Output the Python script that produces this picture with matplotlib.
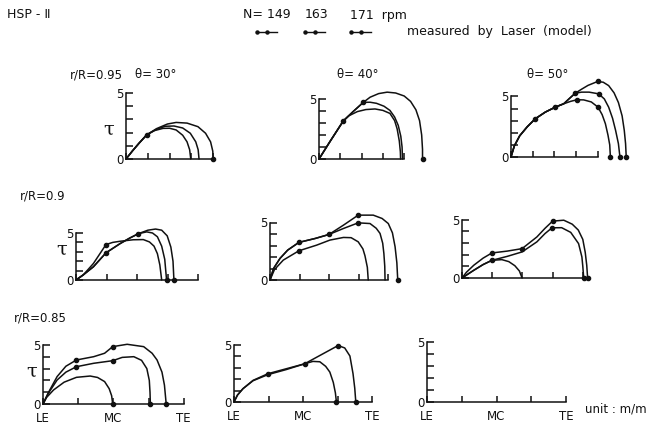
import matplotlib
matplotlib.use("Agg")
import matplotlib.pyplot as plt
from matplotlib.lines import Line2D

# ---------------------------------------------------------------------------
# Cavity thickness tau along the chord (LE .. TE), HSP-II model propeller,
# measured by laser at N = 149 / 163 / 171 rpm.
# Each curve: chord positions (x) and thickness (tau); *_m are measured points.
# ---------------------------------------------------------------------------
rpm_values = [149, 163, 171]
chord_labels = ["LE", "", "MC", "", "TE"]
tau_labels = ["0", "", "", "", "", "5"]

# r/R = 0.95, theta = 30 deg
a1_149_x = [0, 0.3, 0.6, 0.95, 1.3, 1.7, 2.0, 2.3, 2.6, 2.8, 2.92, 2.97]
a1_149_y = [0, 0.62, 1.2, 1.83, 2.15, 2.32, 2.33, 2.2, 1.8, 1.3, 0.7, 0]
a1_163_x = [0, 0.3, 0.6, 0.95, 1.4, 1.8, 2.2, 2.6, 2.95, 3.2, 3.31, 3.35]
a1_163_y = [0, 0.62, 1.2, 1.83, 2.25, 2.48, 2.5, 2.35, 1.95, 1.3, 0.7, 0]
a1_171_x = [0, 0.3, 0.6, 0.95, 1.4, 1.9, 2.3, 2.8, 3.3, 3.65, 3.88, 3.98, 4.0]
a1_171_y = [0, 0.62, 1.2, 1.83, 2.3, 2.65, 2.77, 2.72, 2.45, 1.95, 1.3, 0.6, 0]
a1_m_x = [0.95, 4.0]
a1_m_y = [1.83, 0]

# r/R = 0.95, theta = 40 deg
a2_149_x = [0, 0.55, 1.14, 1.4, 1.8, 2.2, 2.63, 3.0, 3.33, 3.55, 3.67, 3.77, 3.82, 3.83]
a2_149_y = [0, 1.55, 3.17, 3.6, 3.95, 4.12, 4.17, 4.05, 3.8, 3.2, 2.5, 1.5, 0.6, 0]
a2_163_x = [0, 0.55, 1.14, 1.6, 2.08, 2.4, 2.7, 3.05, 3.33, 3.55, 3.72, 3.84, 3.9, 3.92]
a2_163_y = [0, 1.55, 3.17, 3.95, 4.72, 4.73, 4.64, 4.4, 4.05, 3.5, 2.8, 1.9, 1.0, 0]
a2_171_x = [0, 0.55, 1.14, 1.6, 2.08, 2.4, 2.8, 3.2, 3.6, 4.0, 4.3, 4.55, 4.72, 4.82, 4.86, 4.86]
a2_171_y = [0, 1.55, 3.17, 3.95, 4.72, 5.15, 5.45, 5.57, 5.5, 5.25, 4.8, 4.1, 3.2, 2.0, 0.8, 0]
a2_m_x = [1.14, 2.08, 4.86]
a2_m_y = [3.17, 4.72, 0]

# r/R = 0.95, theta = 50 deg
a3_149_x = [0, 0.15, 0.4, 0.75, 1.12, 1.58, 2.04, 2.43, 2.75, 3.04, 3.35, 3.7, 4.01, 4.2, 4.35, 4.47, 4.55, 4.58]
a3_149_y = [0, 0.9, 1.75, 2.5, 3.16, 3.71, 4.12, 4.4, 4.6, 4.73, 4.72, 4.55, 4.12, 3.5, 2.75, 1.8, 1.0, 0]
a3_163_x = [0, 0.15, 0.4, 0.75, 1.12, 1.58, 2.04, 2.43, 2.7, 2.96, 3.25, 3.6, 4.04, 4.3, 4.5, 4.68, 4.82, 4.95, 5.02]
a3_163_y = [0, 0.9, 1.75, 2.5, 3.16, 3.71, 4.12, 4.4, 4.85, 5.27, 5.36, 5.36, 5.22, 4.8, 4.12, 3.2, 2.2, 1.1, 0]
a3_171_x = [0, 0.15, 0.4, 0.75, 1.12, 1.58, 2.04, 2.43, 2.7, 2.96, 3.25, 3.55, 3.99, 4.25, 4.5, 4.75, 4.95, 5.12, 5.22, 5.28, 5.31]
a3_171_y = [0, 0.9, 1.75, 2.5, 3.16, 3.71, 4.12, 4.4, 4.85, 5.27, 5.6, 5.92, 6.24, 6.18, 5.9, 5.3, 4.5, 3.4, 2.2, 1.1, 0]
a3_m_x = [1.12, 2.04, 3.04, 4.01, 2.96, 4.04, 3.99, 4.58, 5.02, 5.31]
a3_m_y = [3.16, 4.12, 4.73, 4.12, 5.27, 5.22, 6.24, 0, 0, 0]

# r/R = 0.9, theta = 30 deg
b1_149_x = [0, 0.24, 0.57, 0.98, 1.2, 1.44, 1.87, 2.2, 2.4, 2.55, 2.66, 2.74, 2.8]
b1_149_y = [0, 0.55, 1.76, 3.77, 4.0, 4.12, 4.28, 4.3, 4.05, 3.6, 2.8, 1.6, 0]
b1_163_x = [0, 0.24, 0.57, 0.98, 1.44, 1.75, 2.04, 2.31, 2.5, 2.66, 2.8, 2.9, 2.96]
b1_163_y = [0, 0.55, 1.41, 2.89, 3.87, 4.45, 4.93, 5.12, 5.0, 4.6, 3.6, 2.2, 0]
b1_171_x = [0, 0.24, 0.57, 0.98, 1.44, 1.75, 2.04, 2.35, 2.6, 2.8, 2.98, 3.1, 3.17, 3.2]
b1_171_y = [0, 0.55, 1.41, 2.89, 3.87, 4.45, 4.93, 5.3, 5.42, 5.3, 4.7, 3.5, 2.0, 0]
b1_m_x = [0.98, 0.98, 2.04, 2.96, 3.2]
b1_m_y = [3.77, 2.89, 4.93, 0, 0]

# r/R = 0.9, theta = 40 deg
b2_149_x = [0, 0.15, 0.45, 0.98, 1.58, 2.03, 2.49, 2.75, 2.99, 3.15, 3.22, 3.3, 3.33]
b2_149_y = [0, 0.9, 1.73, 2.54, 3.03, 3.47, 3.7, 3.68, 3.32, 2.7, 2.1, 1.1, 0]
b2_163_x = [0, 0.12, 0.34, 0.6, 0.98, 1.53, 2.0, 2.49, 2.99, 3.39, 3.6, 3.73, 3.82, 3.86, 3.89, 3.9]
b2_163_y = [0, 1.0, 1.88, 2.6, 3.27, 3.61, 3.96, 4.48, 4.97, 4.91, 4.5, 4.05, 3.2, 2.31, 1.2, 0]
b2_171_x = [0, 0.12, 0.34, 0.6, 0.98, 1.53, 2.0, 2.49, 2.99, 3.5, 3.8, 4.01, 4.15, 4.24, 4.3, 4.33]
b2_171_y = [0, 1.0, 1.88, 2.6, 3.27, 3.61, 3.96, 4.77, 5.64, 5.64, 5.35, 4.91, 4.1, 2.89, 1.5, 0]
b2_m_x = [0.98, 0.98, 2.0, 2.99, 2.99, 4.33]
b2_m_y = [2.54, 3.27, 3.96, 4.97, 5.64, 0]

# r/R = 0.9, theta = 50 deg
b3_149_x = [0, 0.39, 0.7, 0.99, 1.32, 1.55, 1.75, 1.9, 1.99]
b3_149_y = [0, 0.66, 1.15, 1.51, 1.57, 1.4, 1.05, 0.6, 0]
b3_163_x = [0, 0.39, 0.7, 0.99, 1.5, 1.99, 2.48, 2.75, 2.98, 3.3, 3.6, 3.86, 3.97, 4.0, 4.03]
b3_163_y = [0, 0.66, 1.15, 1.51, 1.85, 2.23, 3.09, 3.8, 4.29, 4.3, 3.9, 2.94, 1.8, 1.0, 0]
b3_171_x = [0, 0.15, 0.39, 0.7, 0.99, 1.5, 1.99, 2.48, 2.75, 3.0, 3.37, 3.65, 3.85, 4.0, 4.08, 4.13, 4.16]
b3_171_y = [0, 0.5, 1.09, 1.7, 2.14, 2.3, 2.51, 3.51, 4.25, 4.86, 4.94, 4.6, 4.1, 3.3, 2.2, 1.1, 0]
b3_m_x = [0.99, 0.99, 1.99, 2.98, 3.0, 4.03, 4.16]
b3_m_y = [1.51, 2.14, 2.51, 4.29, 4.86, 0, 0]

# r/R = 0.85, theta = 30 deg
c1_149_x = [0, 0.1, 0.3, 0.6, 0.95, 1.34, 1.55, 1.75, 1.88, 1.95, 1.98]
c1_149_y = [0, 0.55, 1.19, 1.85, 2.26, 2.37, 2.25, 1.9, 1.3, 0.7, 0]
c1_163_x = [0, 0.15, 0.4, 0.65, 0.95, 1.44, 1.98, 2.25, 2.58, 2.8, 2.95, 3.02, 3.04, 3.05]
c1_163_y = [0, 0.9, 2.03, 2.7, 3.16, 3.45, 3.67, 3.95, 4.01, 3.7, 3.0, 2.0, 1.0, 0]
c1_171_x = [0, 0.15, 0.4, 0.65, 0.95, 1.44, 1.75, 1.98, 2.39, 2.86, 3.1, 3.24, 3.38, 3.45, 3.5]
c1_171_y = [0, 0.95, 2.32, 3.2, 3.73, 4.01, 4.3, 4.86, 5.06, 4.86, 4.3, 3.73, 2.7, 1.6, 0]
c1_m_x = [0.95, 1.98, 0.95, 1.98, 1.98, 3.05, 3.5]
c1_m_y = [3.16, 3.67, 3.73, 4.86, 0, 0, 0]

# r/R = 0.85, theta = 40 deg
c2_163_x = [0, 0.1, 0.26, 0.55, 0.98, 1.51, 2.04, 2.28, 2.48, 2.65, 2.77, 2.87, 2.93, 2.96]
c2_163_y = [0, 0.6, 1.16, 1.85, 2.38, 2.82, 3.32, 3.53, 3.5, 3.1, 2.6, 1.7, 0.8, 0]
c2_171_x = [0, 0.1, 0.26, 0.55, 0.98, 1.51, 2.04, 2.57, 3.01, 3.2, 3.35, 3.44, 3.49, 3.52]
c2_171_y = [0, 0.6, 1.16, 1.88, 2.46, 2.89, 3.32, 4.19, 4.91, 4.7, 4.0, 2.46, 1.2, 0]
c2_m_x = [0.98, 2.04, 3.01, 2.96, 3.52]
c2_m_y = [2.46, 3.32, 4.91, 0, 0]

# ---------------------------------------------------------------------------
W, H = 651, 424
fig = plt.figure(figsize=(W / 100, H / 100), dpi=100)
fig.patch.set_facecolor("white")
plt.rcParams["font.family"] = ["DejaVu Sans"]

INK = "#111111"


def frame(x0, y0, sx, sy, bottom_labels=False):
    """Open L-shaped axis with its origin at pixel (x0, y0)."""
    ax = fig.add_axes([x0 / W, 1 - y0 / H, 4 * sx / W, 5 * sy / H])
    ax.set_xlim(0, 4)
    ax.set_ylim(0, 5)
    ax.patch.set_visible(False)
    for side in ("top", "right"):
        ax.spines[side].set_visible(False)
    for side in ("left", "bottom"):
        ax.spines[side].set_linewidth(1.1)
        ax.spines[side].set_color(INK)
    ax.set_yticks(range(6))
    ax.set_yticklabels(tau_labels)
    ax.set_xticks(range(5))
    ax.set_xticklabels(chord_labels if bottom_labels else [""] * 5)
    ax.set_xticks([4], minor=True)
    ax.tick_params(axis="y", direction="in", length=5, width=1.1, pad=2,
                   labelsize=8.5, colors=INK)
    ax.tick_params(axis="x", which="major", direction="in", length=4,
                   width=1.1, pad=6, labelsize=8.5, colors=INK)
    ax.tick_params(axis="x", which="minor", direction="in", length=11,
                   width=1.1)
    return ax


def curves(ax, series, mx, my):
    for xs, ys in series:
        ax.plot(xs, ys, color=INK, lw=1.1, clip_on=False,
                solid_joinstyle="round", solid_capstyle="round")
    ax.plot(mx, my, "o", ms=3.0, color=INK, clip_on=False)


# row r/R = 0.95
ax = frame(126, 159, 21.8, 13.2)
curves(ax, [(a1_149_x, a1_149_y), (a1_163_x, a1_163_y), (a1_171_x, a1_171_y)], a1_m_x, a1_m_y)
ax = frame(319, 159, 21.3, 12.0)
curves(ax, [(a2_149_x, a2_149_y), (a2_163_x, a2_163_y), (a2_171_x, a2_171_y)], a2_m_x, a2_m_y)
ax = frame(511, 157, 21.7, 12.1)
curves(ax, [(a3_149_x, a3_149_y), (a3_163_x, a3_163_y), (a3_171_x, a3_171_y)], a3_m_x, a3_m_y)

# row r/R = 0.9
ax = frame(76, 280, 30.6, 9.4)
curves(ax, [(b1_149_x, b1_149_y), (b1_163_x, b1_163_y), (b1_171_x, b1_171_y)], b1_m_x, b1_m_y)
ax = frame(270, 280, 29.5, 11.5)
curves(ax, [(b2_149_x, b2_149_y), (b2_163_x, b2_163_y), (b2_171_x, b2_171_y)], b2_m_x, b2_m_y)
ax = frame(462, 278, 30.2, 11.7)
curves(ax, [(b3_149_x, b3_149_y), (b3_163_x, b3_163_y), (b3_171_x, b3_171_y)], b3_m_x, b3_m_y)

# row r/R = 0.85
ax = frame(43, 404, 35.2, 11.8, bottom_labels=True)
curves(ax, [(c1_149_x, c1_149_y), (c1_163_x, c1_163_y), (c1_171_x, c1_171_y)], c1_m_x, c1_m_y)
ax = frame(234, 402, 34.6, 11.5, bottom_labels=True)
curves(ax, [(c2_163_x, c2_163_y), (c2_171_x, c2_171_y)], c2_m_x, c2_m_y)
ax = frame(427, 402, 34.75, 12.0, bottom_labels=True)


def label(x, y, s, size=8.5, **kw):
    fig.text(x / W, 1 - y / H, s, fontsize=size, color=INK, va="center", **kw)


# header and legend
label(7, 15, "HSP - Ⅱ", size=9)
label(243, 15, "N= 149", size=9)
label(305, 15, "163", size=9)
label(350, 15, "171  rpm", size=9)
for cx in (267, 315, 361):
    fig.add_artist(Line2D([(cx - 10) / W, (cx + 10) / W], [1 - 32 / H] * 2,
                          color=INK, lw=1.0, marker="o", ms=2.2,
                          markevery=[0], transform=fig.transFigure))
    fig.add_artist(Line2D([cx / W], [1 - 32 / H], color=INK, marker="o",
                          ms=2.2, transform=fig.transFigure))
label(407, 31, "measured  by  Laser  (model)", size=9)

# row and column captions
label(70, 75, "r/R=0.95")
label(135, 75, "θ= 30°")
label(337, 75, "θ= 40°")
label(527, 75, "θ= 50°")
label(20, 196, "r/R=0.9")
label(14, 318, "r/R=0.85")
label(585, 409, "unit : m/m")

for tx, ty in ((103, 130), (56, 250), (26, 372)):
    fig.text(tx / W, 1 - ty / H, "τ", fontsize=14, family="DejaVu Serif",
             color=INK, va="center")

fig.savefig("out.png", dpi=100, facecolor="white")
